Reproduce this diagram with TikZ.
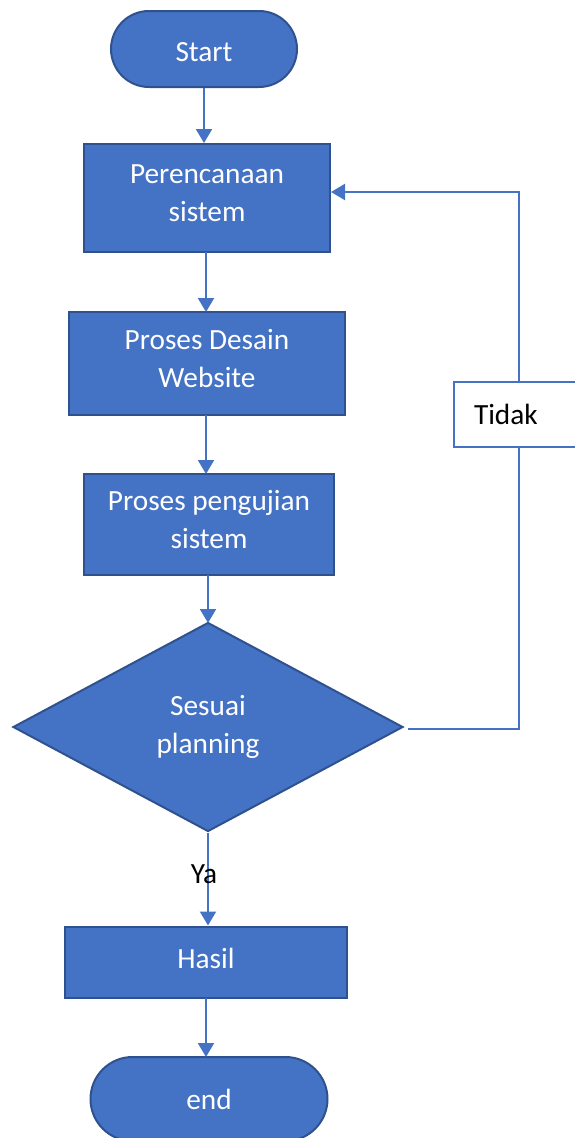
\documentclass[tikz,border=0pt]{standalone}
\usepackage{fontspec}
\setmainfont{Carlito}
\usetikzlibrary{shapes.geometric,arrows.meta}
\definecolor{officeblue}{HTML}{4472C4}
\definecolor{officeedge}{HTML}{2F528F}
% shift text vertically while keeping its measured box
\newcommand{\shiftup}[2]{\raisebox{#1}[\height][\depth]{#2}}
\begin{document}
\begin{tikzpicture}[x=1pt,y=-1pt,
  every node/.style={font=\fontsize{29.3}{37.5}\selectfont},
  block/.style={rectangle,draw=officeedge,line width=2pt,fill=officeblue,
    text=white,align=center,inner sep=0pt},
  terminal/.style={block,rounded corners=#1},
  decision/.style={diamond,draw=officeedge,line width=2pt,fill=officeblue,
    text=white,align=center,inner sep=0pt,aspect=1.87},
  conn/.style={draw=officeblue,line width=2pt,
    -{Triangle[width=16pt,length=14pt]}},
  labelbox/.style={rectangle,draw=officeblue,line width=2pt,fill=white,
    text=black,align=left,text width=110pt,inner xsep=20pt,inner ysep=0pt,
    minimum height=65pt}]
\useasboundingbox (0,0) rectangle (574,1138);

% process nodes
\node[terminal=38pt,minimum width=186pt,minimum height=76pt] (start) at (204,49) {\shiftup{-3pt}{Start}};
\node[block,minimum width=246pt,minimum height=108pt] (plan) at (207,198) {\shiftup{3pt}{\begin{tabular}{@{}c@{}}Perencanaan\\sistem\end{tabular}}};
\node[block,minimum width=276pt,minimum height=103pt] (desain) at (207,363) {\shiftup{2pt}{\begin{tabular}{@{}c@{}}Proses Desain\\Website\end{tabular}}};
\node[block,minimum width=250pt,minimum height=101pt] (uji) at (209,524) {\shiftup{2pt}{\begin{tabular}{@{}c@{}}Proses pengujian\\sistem\end{tabular}}};
\node[decision,minimum width=390pt,minimum height=209pt] (dec) at (208,727) {Sesuai\\planning};
\node[block,minimum width=282pt,minimum height=71pt] (hasil) at (206,962) {\shiftup{4pt}{Hasil}};
\node[terminal=42pt,minimum width=237pt,minimum height=84pt] (end) at (209,1099) {end};

% main flow
\draw[conn] (start.south) -- (start.south |- plan.north);
\draw[conn] (206,252) -- (206,312);
\draw[conn] (206,415) -- (206,474);
\draw[conn] (208,575) -- (208,623);
\draw[conn] (dec.south) -- (dec.south |- hasil.north);
\draw[conn] (206,998) -- (206,1057);

% feedback loop
\coordinate (c1) at (519,729);
\coordinate (c2) at (519,192);
\draw[conn] ([xshift=4pt]dec.east |- c1) -- (c1) -- (c2) -- (plan.east |- c2);

% labels
\node[labelbox,anchor=west] (tidak) at (453,414.5) {Tidak};
\node[text=black] (ya) at (204,874) {Ya};
\end{tikzpicture}
\end{document}
